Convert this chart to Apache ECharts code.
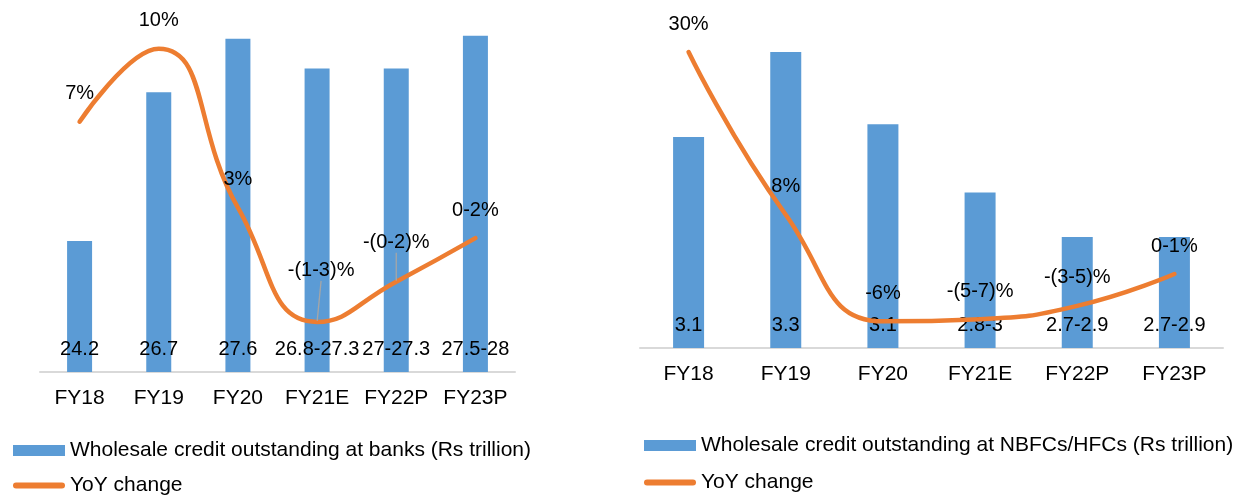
<!DOCTYPE html>
<html>
<head>
    <meta charset="utf-8" />
    <script src="https://cdn.jsdelivr.net/npm/echarts@6/dist/echarts.min.js"></script>
    <title></title>
    <style>
        body { margin: 0; background: #fff; }
    </style>
</head>

<body>
    <div id="main" style="width: 1250px;height:495px;"></div>

    <script type="text/javascript">

        var categories = ['FY18', 'FY19', 'FY20', 'FY21E', 'FY22P', 'FY23P'];

        // banks
        var bankCredit = [24.2, 26.7, 27.6, 27.1, 27.1, 27.65];
        var bankCreditLabels = ['24.2', '26.7', '27.6', '26.8-27.3', '27-27.3', '27.5-28'];
        var bankYoy = [6.7, 10.05, 2.75, -2.5, -0.65, 1.35];
        var bankYoyLabels = ['7%', '10%', '3%', '-(1-3)%', '-(0-2)%', '0-2%'];

        // NBFCs / HFCs
        var nbfcCredit = [3.07, 3.30, 3.105, 2.92, 2.80, 2.80];
        var nbfcCreditLabels = ['3.1', '3.3', '3.1', '2.8-3', '2.7-2.9', '2.7-2.9'];
        var nbfcYoy = [30, 8, -6.4, -6.1, -4.3, 0];
        var nbfcYoyLabels = ['30%', '8%', '-6%', '-(5-7)%', '-(3-5)%', '0-1%'];

        var bankName = 'Wholesale credit outstanding at banks (Rs trillion)';
        var nbfcName = 'Wholesale credit outstanding at NBFCs/HFCs (Rs trillion)';

        var blue = '#5B9BD5';
        var orange = '#ED7D31';
        var font = "'Liberation Sans', Arial, sans-serif";
        var lineIcon = 'path://M3,0H49A3,3 0 0 1 49,6H3A3,3 0 0 1 3,0Z';

        var myChart = echarts.init(document.getElementById('main'));

        function xAxisFor(idx) {
            return {
                type: 'category',
                gridIndex: idx,
                data: categories,
                axisTick: { show: false },
                axisLine: { onZero: false, lineStyle: { color: '#d9d9d9', width: 2 } },
                axisLabel: { interval: 0, fontSize: 21, color: '#000', fontFamily: font, margin: 16 }
            };
        }

        function hiddenAxis(idx, min, max) {
            return { type: 'value', gridIndex: idx, min: min, max: max, show: false, splitLine: { show: false } };
        }

        function barSeries(name, idx, data, labels, width) {
            return {
                name: name,
                type: 'bar',
                xAxisIndex: idx,
                yAxisIndex: idx * 2,
                data: data,
                barWidth: width,
                itemStyle: { color: blue },
                label: {
                    show: true,
                    position: 'insideBottom',
                    distance: 13,
                    fontSize: 20,
                    color: '#000',
                    fontFamily: font,
                    formatter: function (p) { return labels[p.dataIndex]; }
                }
            };
        }

        function lineSeries(idx, data, labels) {
            return {
                name: 'YoY change',
                type: 'line',
                xAxisIndex: idx,
                yAxisIndex: idx * 2 + 1,
                data: data,
                smooth: true,
                symbol: 'circle',
                symbolSize: 2,
                itemStyle: { color: orange },
                lineStyle: { color: orange, width: 4.5, cap: 'round' },
                label: {
                    show: true,
                    position: 'top',
                    distance: 17,
                    fontSize: 20,
                    color: '#000',
                    fontFamily: font,
                    formatter: function (p) { return labels[p.dataIndex]; }
                },
                labelLine: { show: false },
                z: 3
            };
        }

        // two bank labels sit higher with a leader line
        var bankLine = lineSeries(0, bankYoy.map(function (v, i) {
            if (i === 3 || i === 4) {
                return { value: v, labelLine: { show: true, lineStyle: { color: '#a6a6a6', width: 1.3 } } };
            }
            return v;
        }), bankYoyLabels);
        bankLine.labelLayout = function (p) {
            if (p.dataIndex === 3) return { dx: 4, dy: -23 };
            if (p.dataIndex === 4) return { dy: -11 };
            return {};
        };

        function legendItem(left, top, name, icon) {
            return {
                left: left, top: top,
                itemWidth: 52, itemHeight: 11,
                textStyle: { fontSize: 21, color: '#000', fontFamily: font },
                data: [{ name: name, icon: icon }]
            };
        }

        myChart.setOption({
            animation: false,
            textStyle: { fontFamily: font },
            grid: [
                { left: 40, right: 735, top: 15, bottom: 123 },
                { left: 640, right: 27, top: 15, bottom: 147 }
            ],
            legend: [
                legendItem(8, 435, bankName, 'rect'),
                legendItem(8, 470, 'YoY change', lineIcon),
                legendItem(639, 430, nbfcName, 'rect'),
                legendItem(639, 467, 'YoY change', lineIcon)
            ],
            xAxis: [xAxisFor(0), xAxisFor(1)],
            yAxis: [
                hiddenAxis(0, 22, 28),
                hiddenAxis(0, -4.8, 11.6),
                hiddenAxis(1, 2.5, 3.4),
                hiddenAxis(1, -10, 35)
            ],
            series: [
                barSeries(bankName, 0, bankCredit, bankCreditLabels, 25),
                bankLine,
                barSeries(nbfcName, 1, nbfcCredit, nbfcCreditLabels, 31),
                lineSeries(1, nbfcYoy, nbfcYoyLabels)
            ]
        });

    </script>

</body>
</html>
